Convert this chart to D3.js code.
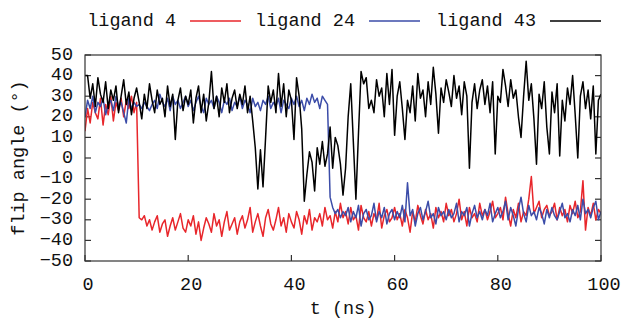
<!DOCTYPE html>
<html>
<head>
<meta charset="utf-8">
<script src="https://cdn.jsdelivr.net/npm/d3@7"></script>
<style>
  body { margin: 0; background: #fff; }
  svg { display: block; }
  text { font-family: "Liberation Mono", "DejaVu Sans Mono", monospace; font-size: 18.5px; fill: #111; }
  .frame { fill: none; stroke: #333; stroke-width: 1.2; }
  .tick { stroke: #333; stroke-width: 1.2; }
  .series { fill: none; stroke-width: 1.5; stroke-linejoin: round; }
</style>
</head>
<body>
<svg id="chart" width="622" height="320"></svg>
<script>
// time axis: 0..100 ns every 0.5 ns
const tStep = 0.5

const ligand4 = [
  13, 24, 17, 27, 22, 19, 29, 16, 26, 21, 30, 18, 27, 23, 29, 20, 28, 24, 30, 22, 27,
  -29, -30, -28, -33, -30, -35, -31, -28, -36, -32, -30, -38, -33, -29, -35, -31, -27, -34, -36, -30,
  -33, -28, -37, -31, -40, -34, -29, -32, -36, -27, -33, -30, -38, -31, -26, -35, -32, -29, -37, -31,
  -28, -34, -30, -24, -36, -31, -27, -33, -38, -29, -25, -32, -35, -30, -24, -33, -29, -36, -27, -31,
  -34, -26, -30, -37, -28, -32, -25, -35, -29, -31, -27, -33, -24, -30, -28, -34, -26, -31, -22, -29,
  -26, -32, -24, -30, -28, -35, -23, -29, -31, -26, -33, -27, -30, -22, -34, -28, -25, -31, -29, -24,
  -30, -27, -33, -25, -29, -36, -26, -31, -23, -28, -32, -25, -30, -27, -34, -24, -29, -26, -31, -22,
  -28, -25, -31, -27, -20, -30, -26, -33, -24, -29, -27, -31, -22, -28, -25, -30, -26, -21, -29, -27,
  -24, -30, -19, -27, -33, -25, -29, -22, -31, -26, -28, -20, -9, -27, -24, -21, -29, -25, -23, -28,
  -26, -22, -30, -24, -28, -25, -31, -23, -27, -21, -29, -26, -11, -35, -24, -28, -22, -30, -25, -27
]

const ligand24 = [
  20, 28, 24, 30, 22, 27, 25, 29, 21, 26, 28, 23, 30, 25, 27, 22, 17, 29, 24, 27, 25,
  26, 24, 27, 25, 23, 26, 28, 24, 31, 27, 25, 29, 23, 30, 26, 28, 24, 27, 30, 25,
  28, 23, 27, 30, 25, 22, 29, 26, 28, 24, 30, 27, 22, 28, 26, 29, 23, 27, 25, 30,
  24, 28, 26, 22, 29, 25, 27, 23, 28, 26, 30, 24, 27, 25, 29, 22, 28, 26, 24, 29,
  26, 30, 25, 28, 23, 29, 26, 31, 27, 29, 24, 30, 28, 26, -19, -24, -27, -25, -29, -26,
  -28, -24, -31, -26, -29, -23, -33, -27, -25, -30, -28, -22, -31, -26, -29, -24, -32, -27, -25, -30,
  -26, -29, -23, -31, -12, -28, -25, -33, -27, -24, -30, -26, -21, -29, -27, -32, -24, -28, -26, -30,
  -25, -29, -27, -22, -31, -26, -28, -24, -33, -27, -23, -29, -26, -30, -25, -28, -22, -31, -27, -24,
  -29, -26, -21, -30, -24, -28, -33, -25, -19, -27, -31, -23, -28, -26, -30, -24, -27, -32, -25, -29,
  -24, -28, -30, -26, -22, -29, -27, -31, -25, -28, -23, -30, -20, -27, -25, -29, -24, -21, -30, -26
]

const ligand43 = [
  40, 40, 29, 36, 25, 39, 31, 27, 37, 24, 33, 28, 35, 22, 30, 38, 26, 32, 21, 29, 34,
  27, 19, 31, 24, 36, 28, 22, 33, 26, 29, 20, 35, 25, 31, 9, 28, 34, 23, 30, 26,
  33, 17, 29, 35, 22, 31, 18, 27, 42, 24, 30, 20, 34, 27, 36, 22, 29, 33, 24, 31,
  26, 35, 22, 30, 18, 5, -15, 4, -14, 10, 35, 27, 33, 22, 41, 25, 36, 20, 33, 28,
  9, 39, 30, 14, -21, -8, 3, -2, -16, 5, -3, 8, -4, 2, 15, -5, 10, 6, -3, -18,
  -5, 20, 36, 8, -20, 12, 42, 36, 39, 24, 28, 22, 38, 30, 34, 20, 41, 26, 43, 11,
  30, 37, 24, 9, 28, 22, 35, 18, 41, 29, 33, 20, 37, 26, 44, 31, 12, 34, 27, 38,
  32, 25, 40, 29, 35, 21, 37, 30, -5, 27, 36, 24, 33, 38, 26, 35, 22, 37, 2, 30,
  27, 43, 35, 25, 38, 29, 33, 20, 10, 30, 47, 28, 36, 19, -3, 31, 24, 37, 15, 2,
  32, 22, 36, 1, 28, 18, 34, 26, 40, 21, 0, 30, 37, 24, 33, 19, 35, 2, 28, 31
]

const seriesNames = ["ligand 4", "ligand 24", "ligand 43"]
const seriesColors = ["#e8262b", "#3b4ca8", "#000000"]
const yTicks = [50, 40, 30, 20, 10, 0, -10, -20, -30, -40, -50]
const xTicks = [0, 20, 40, 60, 80, 100]

const svg = d3.select("#chart")
const M = { left: 85, right: 601, top: 55, bottom: 261 }

const x = d3.scaleLinear().domain([0, 100]).range([M.left, M.right])
const y = d3.scaleLinear().domain([-50, 50]).range([M.bottom, M.top])

// ticks (inside), y mirrored on right
const TL = 6
svg.append("g").selectAll("line.l").data(yTicks).enter().append("line").attr("class", "tick")
  .attr("x1", M.left).attr("x2", M.left + TL).attr("y1", (d) => y(d)).attr("y2", (d) => y(d))
svg.append("g").selectAll("line.r").data(yTicks).enter().append("line").attr("class", "tick")
  .attr("x1", M.right).attr("x2", M.right - TL).attr("y1", (d) => y(d)).attr("y2", (d) => y(d))
svg.append("g").selectAll("line.b").data(xTicks).enter().append("line").attr("class", "tick")
  .attr("x1", (d) => x(d)).attr("x2", (d) => x(d)).attr("y1", M.bottom).attr("y2", M.bottom - TL)

svg.append("g").selectAll("text").data(yTicks).enter().append("text")
  .attr("x", 73).attr("y", (d) => y(d)).attr("text-anchor", "end").attr("dominant-baseline", "central")
  .text((d) => String(d).replace("-", "\u2212"))
svg.append("g").selectAll("text").data(xTicks).enter().append("text")
  .attr("x", (d) => x(d) + 3).attr("y", 290).attr("text-anchor", "middle")
  .text((d) => d)

// axis titles
svg.append("text").attr("x", (M.left + M.right) / 2).attr("y", 314).attr("text-anchor", "middle").text("t (ns)")
svg.append("text").attr("transform", `translate(19,${(M.top + M.bottom) / 2}) rotate(-90)`)
  .attr("text-anchor", "middle").attr("dominant-baseline", "central").text("flip angle (\u00b0)")

// data lines
const line = d3.line().x((d, i) => x(i * tStep)).y((d) => y(d))
svg.append("clipPath").attr("id", "plotclip").append("rect")
  .attr("x", M.left).attr("y", M.top).attr("width", M.right - M.left).attr("height", M.bottom - M.top)
const plot = svg.append("g").attr("clip-path", "url(#plotclip)")
;[ligand4, ligand24, ligand43].forEach((s, k) => {
  plot.append("path").attr("class", "series").attr("stroke", seriesColors[k]).attr("d", line(s))
})

svg.append("rect").attr("class", "frame")
  .attr("x", M.left).attr("y", M.top).attr("width", M.right - M.left).attr("height", M.bottom - M.top)

// legend: label then sample line
const legendTextEnd = [176, 355, 536]
seriesNames.forEach((name, k) => {
  const tx = legendTextEnd[k]
  svg.append("text").attr("x", tx).attr("y", 21).attr("text-anchor", "end").attr("dominant-baseline", "central").text(name)
  svg.append("line").attr("x1", tx + 14).attr("x2", tx + 65).attr("y1", 21).attr("y2", 21)
    .attr("stroke", seriesColors[k]).attr("stroke-width", 1.5)
})
</script>
</body>
</html>
